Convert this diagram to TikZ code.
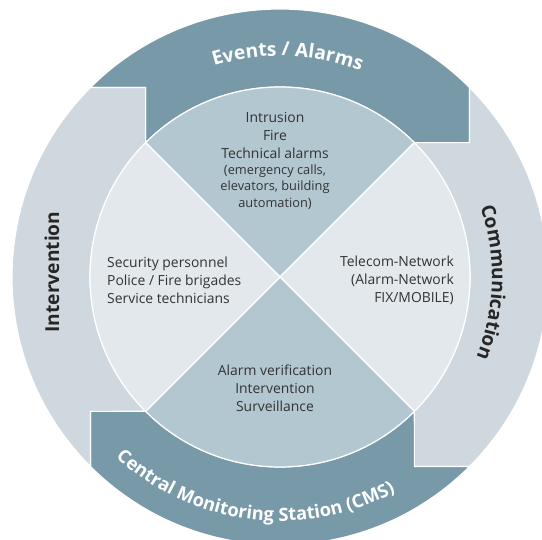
\documentclass[tikz,border=0pt]{standalone}
\usepackage{fontspec}
\setmainfont{Open Sans}
\usepackage{xcolor}
\usepackage{tikz}
\usetikzlibrary{decorations.text}

\definecolor{bandDark}{HTML}{7899A8}
\definecolor{bandLight}{HTML}{CFD8DE}
\definecolor{sectorMid}{HTML}{B3C7D1}
\definecolor{sectorPale}{HTML}{E2E8EC}
\definecolor{inkGray}{HTML}{333333}

\newcommand{\bandfont}{\bfseries\fontsize{19.2}{24}\selectfont}
\newcommand{\cmsfont}{\bfseries\fontsize{18.3}{24}\selectfont}

\tikzset{
    sectortext/.style={text=inkGray, font=\fontsize{13.9}{18}\selectfont, inner sep=0pt},
    notetext/.style={text=inkGray, font=\fontsize{12.8}{16.3}\selectfont, align=center, inner sep=0pt},
    bandlabel/.style={text=black!85, font=\bandfont, inner sep=0pt},
    separator/.style={draw=white, line width=1.2pt, line join=miter}
}

\begin{document}
\begin{tikzpicture}[x=1pt, y=1pt]
    \useasboundingbox (-280, -263) rectangle (262, 277);
    \clip (-280, -263) rectangle (262, 277);

    % outer ring, every band hooks into the next one
    \foreach \ang/\col in {0/bandDark, -90/bandLight, -180/bandDark, 90/bandLight} {
        \filldraw [fill=\col, separator]
            (135+\ang:268) -- (125.34+\ang:232.3) -- (135+\ang:190)
            arc [start angle=135+\ang, end angle=45+\ang, radius=190]
            -- (35.34+\ang:232.3) -- (45+\ang:268)
            arc [start angle=45+\ang, end angle=135+\ang, radius=268] -- cycle;
    }

    % inner disc
    \foreach \ang/\col in {0/sectorMid, -90/sectorPale, -180/sectorMid, 90/sectorPale} {
        \filldraw [fill=\col, separator]
            (0, 0) -- (135+\ang:190)
            arc [start angle=135+\ang, end angle=45+\ang, radius=190] -- cycle;
    }

    \node [sectortext, align=center] (alarms) at (-5, 142) {Intrusion\\Fire\\Technical alarms};
    \node [notetext] (alarmsnote) at (-5, 90) {(emergency calls,\\elevators, building\\automation)};
    \node [sectortext, align=left, anchor=west] (staff) at (-173, -3) {Security personnel\\Police / Fire brigades\\Service technicians};
    \node [sectortext, align=right, anchor=east] (network) at (174, -3) {Telecom-Network\\(Alarm-Network\\FIX/MOBILE)};
    \node [sectortext, align=center] (verify) at (-5, -111) {Alarm verification\\Intervention\\Surveillance};

    % band titles
    \node [bandlabel, rotate=90] (intervention) at (-228, 5) {Intervention};
    \path [decorate, decoration={text along path, text align=center, text color=white,
        text={|\bandfont|Events / Alarms}}]
        (150:221) arc [start angle=150, end angle=26, radius=221];
    \path [decorate, decoration={text along path, text align=center, text color=black!85,
        text={|\bandfont|Communication}}]
        (30:212) arc [start angle=30, end angle=-33, radius=212];
    \path [decorate, decoration={text along path, text align=center, text color=white,
        text={|\cmsfont|Central Monitoring Station (CMS)}}]
        (190:244) arc [start angle=190, end angle=336, radius=244];
\end{tikzpicture}
\end{document}
